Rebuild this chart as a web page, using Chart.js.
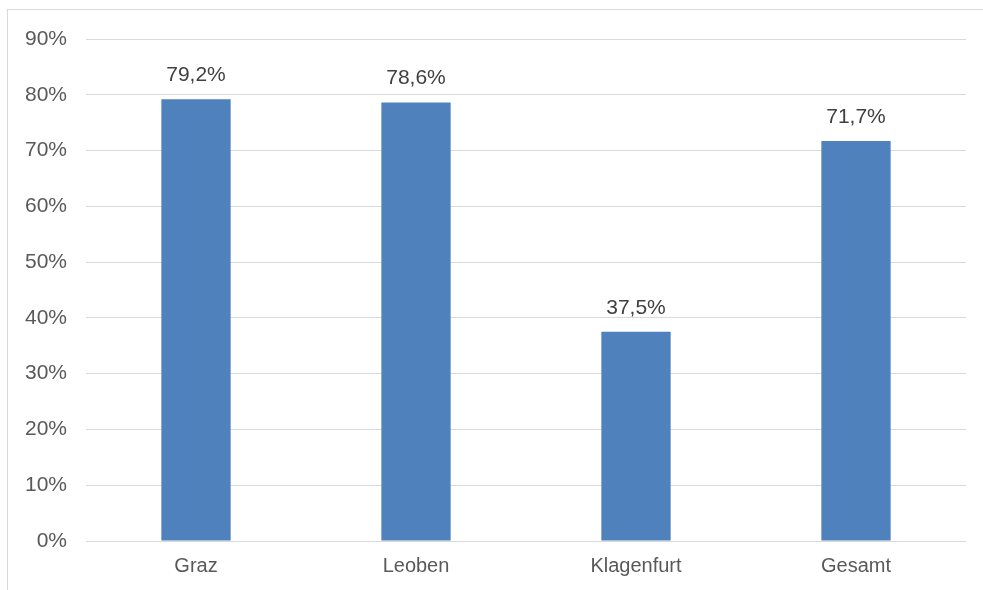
<!DOCTYPE html>
<html>
<head>
<meta charset="utf-8">
<script src="https://cdn.jsdelivr.net/npm/chart.js@4.4.0/dist/chart.umd.min.js"></script>
<style>
  html, body { margin: 0; padding: 0; background: #fff; }
  #wrap { position: relative; width: 983px; height: 590px; }
</style>
</head>
<body>
<div id="wrap"><canvas id="chart"></canvas></div>
<script>
const categories = ["Graz", "Leoben", "Klagenfurt", "Gesamt"];
const shares = [0.792, 0.786, 0.375, 0.717];
const yTicks = [0, 0.1, 0.2, 0.3, 0.4, 0.5, 0.6, 0.7, 0.8, 0.9];

const FONT = "'Liberation Sans', Arial, sans-serif";
const pct = v => (v * 100).toFixed(1).replace(".", ",") + "%";

// light frame around the chart area
const framePlugin = {
  id: "frame",
  beforeDraw(chart) {
    const c = chart.ctx;
    c.save();
    c.strokeStyle = "#d9d9d9";
    c.lineWidth = 1;
    c.strokeRect(7.5, 9.5, chart.width + 10, chart.height + 10);
    c.restore();
  }
};

// value labels above each bar
const valueLabels = {
  id: "valueLabels",
  afterDatasetsDraw(chart) {
    const c = chart.ctx;
    const meta = chart.getDatasetMeta(0);
    c.save();
    c.font = "21px " + FONT;
    c.fillStyle = "#404040";
    c.textAlign = "center";
    c.textBaseline = "middle";
    meta.data.forEach((bar, i) => {
      c.fillText(pct(shares[i]), bar.x, bar.y - 24);
    });
    c.restore();
  }
};

const ctx = document.getElementById("chart").getContext("2d");

new Chart(ctx, {
  type: "bar",
  data: {
    labels: categories,
    datasets: [{
      data: shares,
      backgroundColor: "#4f81bd",
      categoryPercentage: 1,
      barPercentage: 0.315
    }]
  },
  options: {
    responsive: true,
    maintainAspectRatio: false,
    animation: false,
    layout: { padding: { left: 8, right: 17, top: 39, bottom: 0 } },
    plugins: {
      legend: { display: false },
      tooltip: { enabled: false }
    },
    scales: {
      x: {
        grid: { display: false, drawTicks: false },
        border: { display: false },
        ticks: {
          color: "#595959",
          font: { family: FONT, size: 20 },
          padding: 13
        },
        afterFit(scale) { scale.height = 49; }
      },
      y: {
        min: 0,
        max: 0.9,
        afterBuildTicks(scale) {
          scale.ticks = yTicks.map(v => ({ value: v }));
        },
        grid: { color: "#d9d9d9", lineWidth: 1, drawTicks: false },
        border: { display: false },
        ticks: {
          color: "#595959",
          font: { family: FONT, size: 21 },
          padding: 19,
          callback: v => Math.round(v * 100) + "%"
        },
        afterFit(scale) { scale.width = 78; }
      }
    }
  },
  plugins: [framePlugin, valueLabels]
});
</script>
</body>
</html>
